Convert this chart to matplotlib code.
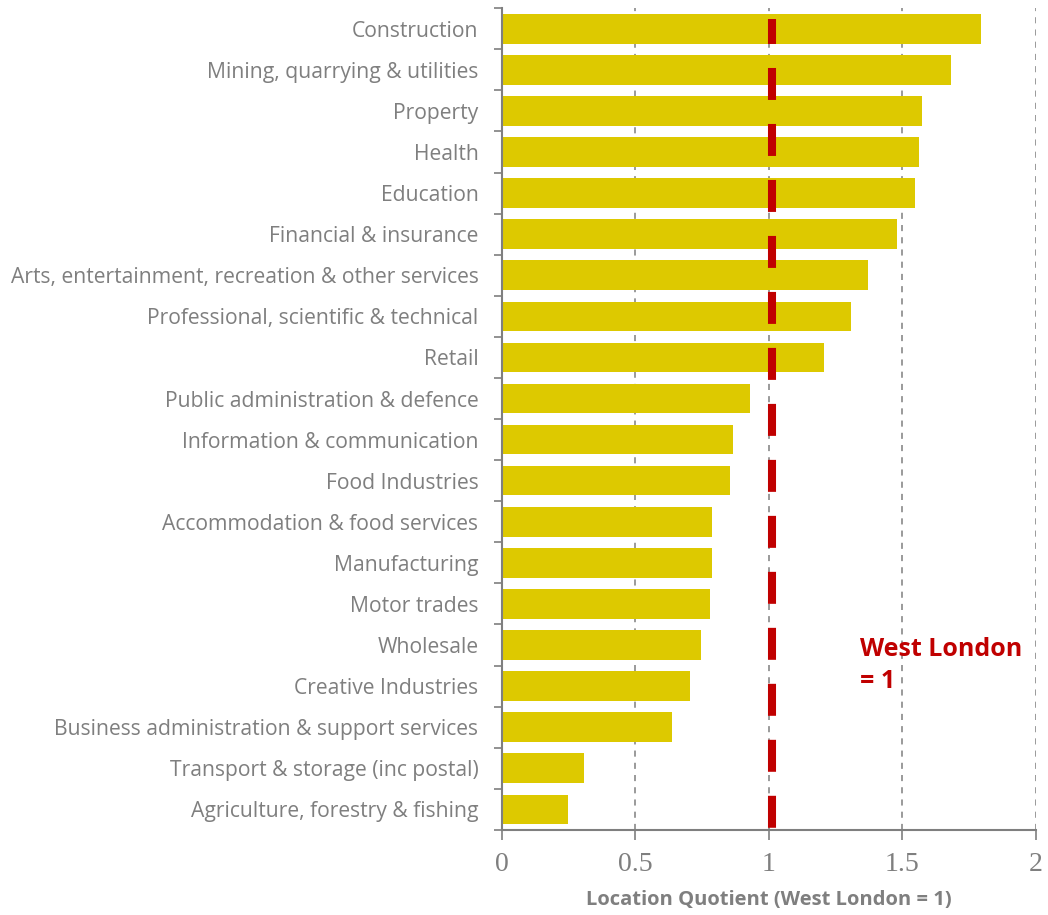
import numpy as np
import matplotlib
matplotlib.use('Agg')
import matplotlib.pyplot as plt

#### Data (top to bottom as in the chart)
sectors = ['Construction', 'Mining, quarrying & utilities', 'Property', 'Health', 'Education',
           'Financial & insurance', 'Arts, entertainment, recreation & other services',
           'Professional, scientific & technical', 'Retail', 'Public administration & defence',
           'Information & communication', 'Food Industries', 'Accommodation & food services',
           'Manufacturing', 'Motor trades', 'Wholesale', 'Creative Industries',
           'Business administration & support services', 'Transport & storage (inc postal)',
           'Agriculture, forestry & fishing']
lq = [1.794, 1.68, 1.573, 1.562, 1.547, 1.479, 1.371, 1.307, 1.206, 0.929,
      0.865, 0.854, 0.787, 0.787, 0.779, 0.745, 0.704, 0.637, 0.307, 0.247]
west_london = 1.011
xticks = [0, 0.5, 1, 1.5, 2]
xticklabels = ['0', '0.5', '1', '1.5', '2']

bar_col = '#DDC900'
red = '#C00000'
grey = '#7F7F7F'

fig = plt.figure(figsize=(10.48, 9.15), dpi=100)
ax = fig.add_axes([0.479, 0.093, 0.5095, 0.898])

n = len(sectors)
ypos = np.arange(n)
ax.barh(ypos, lq, height=0.72, color=bar_col, zorder=2)

# reference line at West London = 1, thick red dashes on top of the bars
ax.plot([west_london, west_london], [-0.23, n - 0.5], color=red, lw=5.8,
        ls=(0.87, (3.97, 2.98)), dash_capstyle='butt', zorder=3)

ax.set_xlim(0, 2)
ax.set_ylim(n - 0.5, -0.5)

ax.set_xticks(xticks)
ax.set_xticklabels(xticklabels, family='Liberation Serif', fontsize=20, color=grey)
ax.set_yticks(ypos)
ax.set_yticklabels(sectors, family='Open Sans', fontsize=15.2, color=grey)
ax.set_yticks(np.arange(n + 1) - 0.5, minor=True)
ax.tick_params(axis='y', which='major', length=0, pad=17)
ax.tick_params(axis='y', which='minor', length=6, width=1.2, color=grey, direction='out')
ax.tick_params(axis='x', length=7, width=1.2, color=grey, direction='out', pad=9)

ax.grid(axis='x', color=grey, ls=(0, (4, 4)), lw=1.1, zorder=0)
ax.set_axisbelow(True)
for s in ['top', 'right']:
    ax.spines[s].set_visible(False)
for s in ['left', 'bottom']:
    ax.spines[s].set_color(grey)
    ax.spines[s].set_linewidth(1.5)

ax.set_xlabel('Location Quotient (West London = 1)', family='Open Sans', fontsize=14.5,
              fontweight='bold', color=grey, labelpad=9)

ax.text(1.34, 15.5, 'West London\n= 1', color=red, fontsize=18, fontweight='bold',
        family='Open Sans', va='center', ha='left', linespacing=1.4)

fig.savefig('out.png', dpi=100)
